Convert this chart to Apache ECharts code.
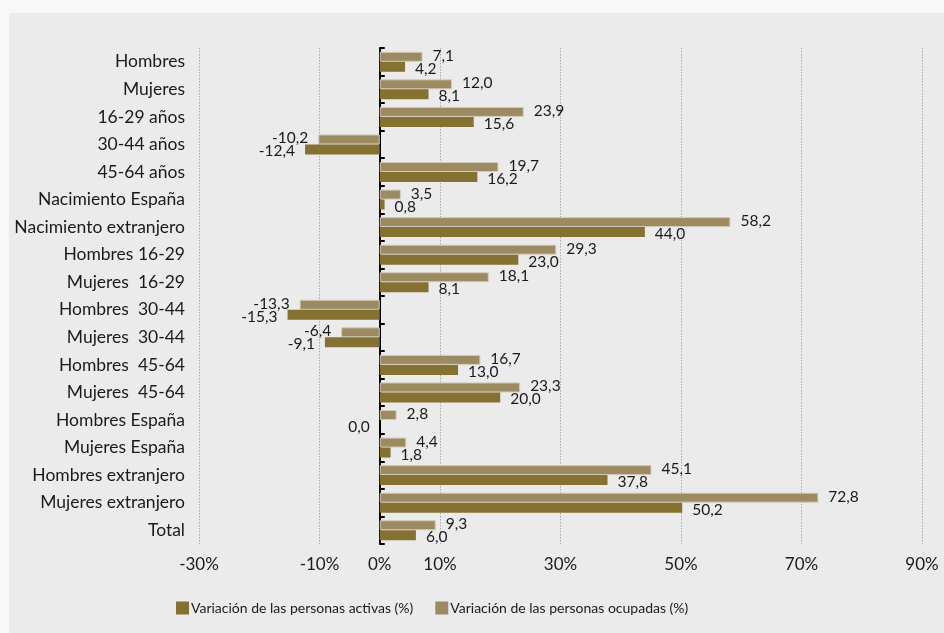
<!DOCTYPE html>
<html><head><meta charset="utf-8">
<script src="https://cdn.jsdelivr.net/npm/echarts@6/dist/echarts.min.js"></script>
<style>
html,body{margin:0;padding:0;background:#f8f8f8;width:944px;height:633px;overflow:hidden}
#c{position:absolute;left:9px;top:13px;width:935px;height:620px;background:#ebebeb}
</style></head>
<body><div id="c"></div>
<script>
const categories = ["Hombres","Mujeres","16-29 años","30-44 años","45-64 años","Nacimiento España","Nacimiento extranjero","Hombres 16-29","Mujeres  16-29","Hombres  30-44","Mujeres  30-44","Hombres  45-64","Mujeres  45-64","Hombres España","Mujeres España","Hombres extranjero","Mujeres extranjero","Total"];
const activas = [4.2,8.1,15.6,-12.4,16.2,0.8,44.0,23.0,8.1,-15.3,-9.1,13.0,20.0,0.0,1.8,37.8,50.2,6.0];
const ocupadas = [7.1,12.0,23.9,-10.2,19.7,3.5,58.2,29.3,18.1,-13.3,-6.4,16.7,23.3,2.8,4.4,45.1,72.8,9.3];
const seriesNames = ["Variación de las personas activas (%)","Variación de las personas ocupadas (%)"];
const xMin = -30, xMax = 90, xStep = 20;

const FONT = 'Lato';
const fmt = v => v.toFixed(1).replace('.', ',');
const mk = arr => arr.map(v => ({value: v, label: {position: v > 0 ? 'right' : 'left'}}));

const chart = echarts.init(document.getElementById('c'));
chart.setOption({
  backgroundColor: '#ebebeb',
  animation: false,
  textStyle: {fontFamily: FONT},
  grid: {left: 190, right: 22, top: 35, bottom: 89, containLabel: false},
  legend: {
    data: [{name: seriesNames[0], itemStyle: {borderWidth: 0}}, {name: seriesNames[1], itemStyle: {borderWidth: 0}}],
    bottom: 13, left: 162,
    icon: 'rect', itemWidth: 13, itemHeight: 13, itemGap: 22,
    textStyle: {fontFamily: FONT, fontSize: 14, color: '#1a1a1a', padding: [0,0,0,-3]}
  },
  xAxis: [{
    type: 'value', min: xMin, max: xMax, interval: xStep,
    axisLine: {show: false}, axisTick: {show: false},
    axisLabel: {formatter: v => v + '%', fontFamily: FONT, fontSize: 17, color: '#1a1a1a', margin: 12},
    splitLine: {show: true, lineStyle: {type: [1.5, 1.5], color: '#a8a8a8', width: 1}}
  },{
    type: 'value', min: xMin, max: xMax, interval: 30, position: 'bottom',
    axisLine: {show: false}, axisTick: {show: false}, splitLine: {show: false},
    axisLabel: {formatter: v => v === 0 ? '0%' : '', fontFamily: FONT, fontSize: 17, color: '#1a1a1a', margin: 12}
  }],
  yAxis: [{
    type: 'category', data: categories, inverse: true,
    axisLine: {show: false, onZero: false}, axisTick: {show: false},
    axisLabel: {fontFamily: FONT, fontSize: 17.5, color: '#1a1a1a', margin: 14}
  },{
    type: 'category', data: categories, inverse: true,
    axisLine: {show: true, onZero: true, lineStyle: {color: '#000', width: 2}},
    axisTick: {show: true, length: 5, lineStyle: {color: '#000', width: 2}},
    axisLabel: {show: false}
  }],
  series: [{
    name: seriesNames[1], type: 'bar', data: mk(ocupadas), xAxisIndex: 0, yAxisIndex: 0,
    barWidth: 10, barGap: '0%',
    itemStyle: {color: '#9b8a62', borderColor: '#d4ccb8', borderWidth: 1},
    label: {show: true, formatter: p => fmt(p.value), distance: 10, offset: [0, -1], fontFamily: FONT, fontSize: 15.5, color: '#1a1a1a'}
  },{
    name: seriesNames[0], type: 'bar', data: mk(activas), xAxisIndex: 0, yAxisIndex: 0,
    barWidth: 10, barGap: '0%',
    itemStyle: {color: '#857131'},
    label: {show: true, formatter: p => fmt(p.value), distance: 10, offset: [0, 2], fontFamily: FONT, fontSize: 15.5, color: '#1a1a1a'}
  }]
});
</script></body></html>
